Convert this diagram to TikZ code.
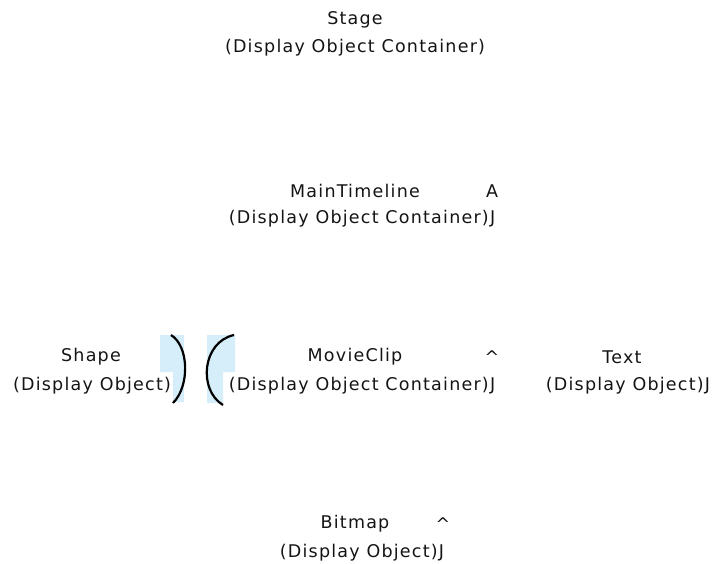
\documentclass[tikz,border=0pt]{standalone}
\usepackage{fontspec}
\setmainfont{DejaVu Sans}[LetterSpace=7]
\definecolor{paleblue}{RGB}{213,238,249}
\definecolor{ink}{RGB}{20,20,20}
\tikzset{lbl/.style={inner sep=0pt, font=\fontsize{17.5}{20}\selectfont, text=ink}}
\begin{document}
\begin{tikzpicture}[x=1pt,y=-1pt]
\useasboundingbox (0,0) rectangle (718,563);
% blue patches
\fill[paleblue] (160,335) -- (184,335) -- (184,402) -- (173,402) -- (173,372) -- (160,372) -- cycle;
\fill[paleblue] (207,335) -- (235,335) -- (235,372) -- (223,372) -- (223,403) -- (207,403) -- cycle;
% brackets
\draw[line width=2.2pt] (171,335) .. controls (189,346) and (190,386) .. (173,403);
\draw[line width=2.2pt] (234,335) .. controls (202,342) and (198,390) .. (223,405);
% Stage
\node[lbl] (stage) at (355,20) {Stage};
\node[lbl] (stagesub) at (355,48) {(Display Object Container)};
% MainTimeline
\node[lbl] (main) at (355,191) {MainTimeline};
\node[lbl] (mainA) at (492,191) {A};
\node[lbl] (mainsub) at (362,219) {(Display Object Container)J};
% row 3
\node[lbl] (shape) at (91,357) {Shape};
\node[lbl] (shapesub) at (92,386) {(Display Object)};
\node[lbl] (movie) at (355,357) {MovieClip};
\node[lbl] (movieA) at (492,357) {\textasciicircum};
\node[lbl] (moviesub) at (362,386) {(Display Object Container)J};
\node[lbl] (text) at (622,357) {Text};
\node[lbl] (textsub) at (628,386) {(Display Object)J};
% Bitmap
\node[lbl] (bitmap) at (355,524) {Bitmap};
\node[lbl] (bitmapA) at (443,524) {\textasciicircum};
\node[lbl] (bitmapsub) at (362,553) {(Display Object)J};
\end{tikzpicture}
\end{document}
